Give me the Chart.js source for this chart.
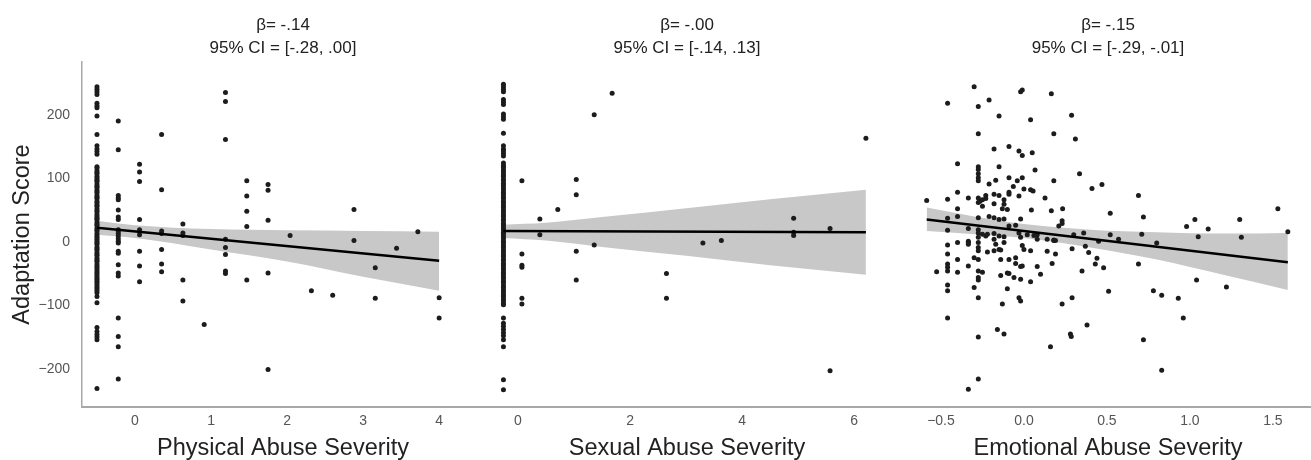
<!DOCTYPE html>
<html>
<head>
<meta charset="utf-8">
<script src="https://cdn.jsdelivr.net/npm/chart.js@4.4.1/dist/chart.umd.min.js"></script>
<style>
  html, body { margin: 0; padding: 0; background: #fff; overflow: hidden; }
  #wrap { position: relative; width: 1311px; height: 460px; overflow: hidden; }
  #wrap canvas { position: absolute; top: 0; }
</style>
</head>
<body>
<div id="wrap">
  <canvas id="physChart" width="484" height="460" style="left:0"></canvas>
  <canvas id="sexChart" width="406" height="460" style="left:484px"></canvas>
  <canvas id="emoChart" width="436" height="460" style="left:890px"></canvas>
</div>
<script>
// shared y axis
const yTicks = [-200, -100, 0, 100, 200];

// physical abuse: severity columns and the scores in each
const physCols = [-0.5, -0.22, 0.06, 0.35, 0.63, 0.91, 1.19, 1.47, 1.75, 2.04, 2.32, 2.60, 2.88, 3.16, 3.44, 3.72, 4.00];
const physScores = [
    [244, 240, 236, 232, 218, 214, 211, 198, 169, 151, 146, 142, 138, 118, 116, 112, 109, 107, 103, 100, 97, 95, 91, 88, 86, 82, 79, 77, 73, 70, 68, 64, 61, 58, 56, 52, 49, 47, 43, 40, 37, 35, 31, 28, 26, 22, 19, 17, 13, 10, 7, 4, 1, -2, -4, -8, -11, -13, -17, -20, -22, -26, -29, -31, -35, -38, -41, -44, -47, -50, -53, -56, -59, -62, -65, -68, -71, -74, -77, -80, -86, -96, -135, -141, -146, -150, -154, -231],
    [190, 145, 73, 69, 66, 50, 39, 35, 19, 17, 13, 9, 5, 1, -2, -15, -18, -36, -49, -54, -120, -149, -165, -216],
    [122, 110, 95, 35, 19, 11, -15, -38, -63],
    [169, 82, 17, 13, -12, -35, -47],
    [28, 14, 10, -60, -93],
    [-130],
    [235, 221, 161, 4, -9, -20, -46, -50],
    [96, 72, 48, 24, -60],
    [90, 81, 34, -49, -201],
    [10],
    [-77],
    [-84],
    [51, 2],
    [-41, -89],
    [-10],
    [16],
    [-88, -120]
];
const physTicks = [0, 1, 2, 3, 4];
const physLineX = [-0.5, 4.0];
const physLineY = [22, -30];
const physBandX = [-0.5, 0, 1, 2, 3, 4];
const physUpper = [33, 26, 20, 18, 17, 16];
const physLower = [11, 6, -12, -31, -55, -77];

// sexual abuse
const sexCols = [-0.26, 0.07, 0.39, 0.71, 1.04, 1.36, 1.68, 2.65, 3.30, 3.63, 4.92, 5.57, 6.21];
const sexScores = [
    [248, 244, 240, 236, 224, 220, 216, 201, 197, 193, 171, 151, 146, 143, 139, 135, 124, 120, 117, 113, 110, 106, 103, 99, 96, 92, 89, 85, 82, 78, 75, 71, 68, 64, 61, 57, 54, 50, 47, 43, 40, 36, 33, 29, 26, 22, 19, 15, 12, 8, 5, 1, -2, -6, -9, -13, -16, -20, -23, -27, -30, -34, -37, -41, -44, -48, -51, -55, -58, -62, -65, -69, -72, -76, -79, -83, -86, -90, -93, -97, -99, -120, -128, -133, -138, -143, -148, -154, -165, -217, -233],
    [96, -19, -37, -40, -89, -98],
    [36, 11],
    [51],
    [98, 74, -15, -60],
    [200, -5],
    [234],
    [-50, -89],
    [-2],
    [2],
    [37, 15, 10],
    [21, -203],
    [163]
];
const sexTicks = [0, 2, 4, 6];
const sexLineX = [-0.26, 6.21];
const sexLineY = [17, 15];
const sexBandX = [-0.26, 0.5, 1.5, 3, 4.5, 6.21];
const sexUpper = [27, 30, 39, 53, 67, 82];
const sexLower = [6, 2, -8, -22, -37, -52];

// emotional abuse: [severity, score]
const emoPoints = [
    [-0.30, 244], [-0.46, 218], [-0.275, 213], [-0.21, 223], [-0.02, 236], [-0.01, 239], [0.165, 233], [-0.15, 198],
    [0.04, 192], [0.287, 199], [-0.275, 170], [0.18, 170], [0.31, 162], [-0.18, 146], [-0.09, 150], [-0.03, 143],
    [-0.01, 136], [0.05, 140], [-0.40, 123], [-0.275, 118], [-0.275, 114], [-0.275, 107], [-0.275, 101], [-0.275, 96],
    [-0.15, 118], [0.067, 113], [0.335, 107], [-0.21, 91], [-0.17, 97], [-0.09, 101], [-0.04, 96], [-0.01, 101],
    [0.18, 96], [-0.064, 87], [-0.40, 78], [-0.335, 69], [-0.275, 69], [-0.265, 64], [-0.23, 73], [-0.18, 75],
    [-0.15, 73], [-0.09, 78], [-0.09, 75], [-0.03, 72], [0.0, 83], [0.04, 82], [0.055, 80], [0.127, 69],
    [0.41, 84], [-0.586, 65], [-0.46, 67], [-0.25, 66], [-0.23, 68], [-0.12, 66], [-0.12, 59], [-0.10, 51],
    [-0.13, 52], [-0.40, 52], [-0.18, 60], [-0.25, 56], [-0.275, 62], [0.045, 50], [0.165, 49], [0.233, 52],
    [-0.40, 40], [-0.275, 38], [-0.46, 37], [-0.21, 40], [-0.18, 38], [-0.15, 35], [-0.12, 36], [-0.02, 36],
    [0.23, 33], [0.23, 29], [0.21, 25], [-0.335, 21], [-0.46, 18], [-0.275, 19], [-0.275, 14], [-0.25, 12],
    [-0.22, 12], [-0.18, 13], [-0.15, 9], [-0.12, 8], [-0.09, 25], [-0.05, 26], [-0.03, 14], [0.02, 11],
    [0.06, 10], [0.08, 11], [0.14, 4], [0.18, 3], [0.30, 11], [0.36, 14], [-0.335, 1], [-0.40, -1],
    [-0.46, -5], [-0.335, -1], [-0.335, -4], [-0.275, 7], [-0.275, -1], [-0.275, -9], [-0.275, -14], [-0.23, 9],
    [-0.18, 4], [-0.17, -4], [-0.15, -12], [-0.12, -1], [-0.02, 7], [-0.01, -6], [0.0, -12], [0.04, -14],
    [0.08, 4], [0.18, 2], [0.19, 2], [0.14, -15], [0.19, -19], [0.29, -11], [0.37, -7], [0.39, -17],
    [0.44, -26], [0.43, -35], [-0.46, -19], [-0.40, -28], [-0.46, -35], [-0.46, -40], [-0.46, -46], [-0.526, -47],
    [-0.40, -48], [-0.335, -38], [-0.30, -25], [-0.275, -28], [-0.22, -16], [-0.18, -14], [-0.14, -13], [-0.275, -46],
    [-0.25, -48], [-0.275, -56], [-0.275, -60], [-0.30, -72], [-0.14, -28], [-0.09, -28], [-0.05, -25], [-0.05, -34],
    [-0.02, -39], [-0.01, -38], [0.08, -39], [0.10, -51], [0.17, -34], [-0.14, -53], [-0.10, -49], [-0.09, -50],
    [-0.06, -56], [-0.02, -59], [0.04, -63], [-0.10, -74], [-0.46, -68], [-0.46, -77], [-0.275, -88], [-0.13, -98],
    [-0.03, -88], [-0.02, -93], [0.23, -98], [0.29, -88], [0.35, -46], [-0.46, -120], [-0.16, -138], [-0.12, -145],
    [-0.275, -150], [0.28, -145], [0.285, -149], [0.38, -131], [0.16, -165], [-0.275, -216], [-0.335, -232],
    [0.47, 90], [0.69, 73], [0.52, 45], [0.72, 39], [0.52, 11], [0.57, 4], [0.45, 1], [0.71, 12],
    [0.80, -2], [0.98, 24], [1.03, 35], [1.11, 20], [1.05, 8], [1.30, 35], [1.31, 7], [1.53, 52],
    [1.59, 16], [0.48, -41], [0.69, -35], [0.51, -78], [0.78, -77], [0.83, -84], [0.93, -89], [1.04, -60],
    [1.22, -71], [0.96, -120], [0.72, -154], [0.83, -202]
];
const emoTicks = [-0.5, 0, 0.5, 1.0, 1.5];
const emoLineX = [-0.586, 1.59];
const emoLineY = [35, -32];
const emoBandX = [-0.586, -0.3, 0, 0.4, 0.8, 1.2, 1.59];
const emoUpper = [54, 40, 28, 19, 15, 13, 14];
const emoLower = [17, 12, 6, -9, -28, -52, -76];

Chart.defaults.font.family = '"Liberation Sans", Arial, sans-serif';
Chart.defaults.animation = false;

const minus = v => String(v).replace('-', '\u2212');

function columnPoints(cols, scores) {
    const pts = [];
    cols.forEach((c, i) => scores[i].forEach(v => pts.push({ x: c, y: v })));
    return pts;
}

function xy(xs, ys) {
    return xs.map((x, i) => ({ x: x, y: ys[i] }));
}

function makePanel(id, cfg) {
    const datasets = [
        { type: 'line', data: xy(cfg.bandX, cfg.upper), borderWidth: 0, pointRadius: 0, fill: '+1',
          backgroundColor: '#c8c8c8', cubicInterpolationMode: 'monotone', order: 3 },
        { type: 'line', data: xy(cfg.bandX, cfg.lower), borderWidth: 0, pointRadius: 0, fill: false,
          cubicInterpolationMode: 'monotone', order: 3 },
        { type: 'scatter', data: cfg.points, pointRadius: 2.5, pointBackgroundColor: '#1c1c1c',
          pointBorderWidth: 0, order: 2 },
        { type: 'line', data: xy(cfg.lineX, cfg.lineY), borderColor: '#000', borderWidth: 2.5,
          pointRadius: 0, fill: false, order: 1 }
    ];

    new Chart(document.getElementById(id), {
        type: 'scatter',
        data: { datasets: datasets },
        options: {
            responsive: false,
            events: [],
            // panels sit edge to edge, so no automatic side padding
            layout: { padding: 0, autoPadding: false },
            scales: {
                x: {
                    type: 'linear',
                    min: cfg.xMin,
                    max: cfg.xMax,
                    afterBuildTicks: s => { s.ticks = cfg.ticks.map(v => ({ value: v })); },
                    afterFit: s => { s.height = 53; },
                    grid: { display: false, drawTicks: false },
                    border: { color: '#a8a8a8', width: 2 },
                    ticks: { color: '#555', font: { size: 14 }, padding: 6,
                             callback: v => minus(cfg.fmt ? v.toFixed(1) : v) },
                    title: { display: true, text: cfg.xTitle, color: '#222', font: { size: 23.5, lineHeight: 1.0 },
                             padding: { top: 0, bottom: 0 } }
                },
                y: {
                    display: cfg.showY,
                    min: -260,
                    max: 283,
                    afterBuildTicks: s => { s.ticks = yTicks.map(v => ({ value: v })); },
                    // only the first panel carries the y axis
                    afterFit: s => { s.width = cfg.showY ? 82 : 0; },
                    grid: { display: false, drawTicks: false },
                    border: { color: '#a8a8a8', width: 1.5 },
                    ticks: { color: '#555', font: { size: 14 }, padding: 12, callback: v => minus(v) },
                    title: { display: true, text: 'Adaptation Score', color: '#222', font: { size: 23.5, lineHeight: 1.0 },
                             padding: { top: 11, bottom: 0 } }
                }
            },
            plugins: {
                legend: { display: false },
                tooltip: { enabled: false },
                title: {
                    display: true,
                    text: cfg.title,
                    fullSize: false,
                    color: '#222',
                    font: { size: 17, weight: 'normal', lineHeight: 1.35 },
                    padding: { top: 13.5, bottom: 2.6 }
                }
            }
        }
    });
}

document.addEventListener('DOMContentLoaded', function() {
    makePanel('physChart', {
        points: columnPoints(physCols, physScores),
        lineX: physLineX, lineY: physLineY,
        bandX: physBandX, upper: physUpper, lower: physLower,
        ticks: physTicks, xMin: -0.697, xMax: 4.59,
        xTitle: 'Physical Abuse Severity',
        title: ['β= -.14', '95% CI = [-.28, .00]'],
        showY: true
    });

    makePanel('sexChart', {
        points: columnPoints(sexCols, sexScores),
        lineX: sexLineX, lineY: sexLineY,
        bandX: sexBandX, upper: sexUpper, lower: sexLower,
        ticks: sexTicks, xMin: -0.607, xMax: 6.64,
        xTitle: 'Sexual Abuse Severity',
        title: ['β= -.00', '95% CI = [-.14, .13]'],
        showY: false
    });

    makePanel('emoChart', {
        points: emoPoints.map(p => ({ x: p[0], y: p[1] })),
        lineX: emoLineX, lineY: emoLineY,
        bandX: emoBandX, upper: emoUpper, lower: emoLower,
        ticks: emoTicks, xMin: -0.807, xMax: 1.82,
        xTitle: 'Emotional Abuse Severity',
        title: ['β= -.15', '95% CI = [-.29, -.01]'],
        showY: false,
        fmt: true
    });
});
</script>
</body>
</html>
